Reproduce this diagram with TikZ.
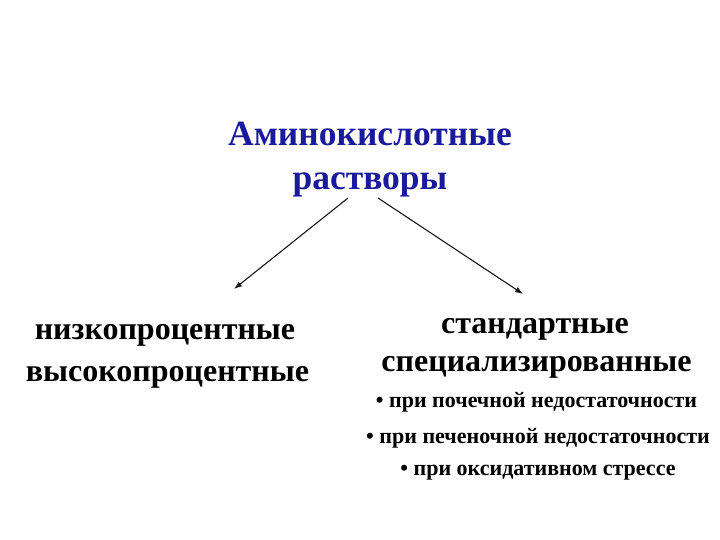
\documentclass[tikz,border=0pt]{standalone}
\usepackage{fontspec}
\setmainfont{Liberation Serif}
\usetikzlibrary{arrows.meta}
\definecolor{titleblue}{HTML}{1A1A9C}
\begin{document}
\begin{tikzpicture}[x=1pt,y=-1pt,
  titletext/.style={font=\bfseries\fontsize{35.5}{40}\selectfont,text=titleblue,inner sep=0pt,anchor=base},
  subtext/.style={font=\bfseries\fontsize{32}{36}\selectfont,inner sep=0pt,anchor=base},
  bullettext/.style={font=\bfseries\fontsize{22}{26}\selectfont,inner sep=0pt,anchor=base},
  arrow/.style={-{Latex[length=8pt,width=6pt]},line width=1.1pt,black!90}]
\useasboundingbox[fill=white] (0,0) rectangle (720,540);
\node[titletext] (t1) at (370,146) {Аминокислотные};
\node[titletext] (t2) at (370,190) {растворы};
\node[subtext] (l1) at (165,339) {низкопроцентные};
\node[subtext] (l2) at (167.5,381) {высокопроцентные};
\node[subtext] (r1) at (535,333) {стандартные};
\node[subtext] (r2) at (536.5,371) {специализированные};
\node[bullettext] (b1) at (536.5,407) {• при почечной недостаточности};
\node[bullettext] (b2) at (538,443) {• при печеночной недостаточности};
\node[bullettext] (b3) at (538,475) {• при оксидативном стрессе};
\coordinate (s1) at (348,198);
\coordinate (e1) at (234,289);
\coordinate (s2) at (378,198);
\coordinate (e2) at (523,294);
\draw[arrow] (s1) -- (e1);
\draw[arrow] (s2) -- (e2);
\end{tikzpicture}
\end{document}
